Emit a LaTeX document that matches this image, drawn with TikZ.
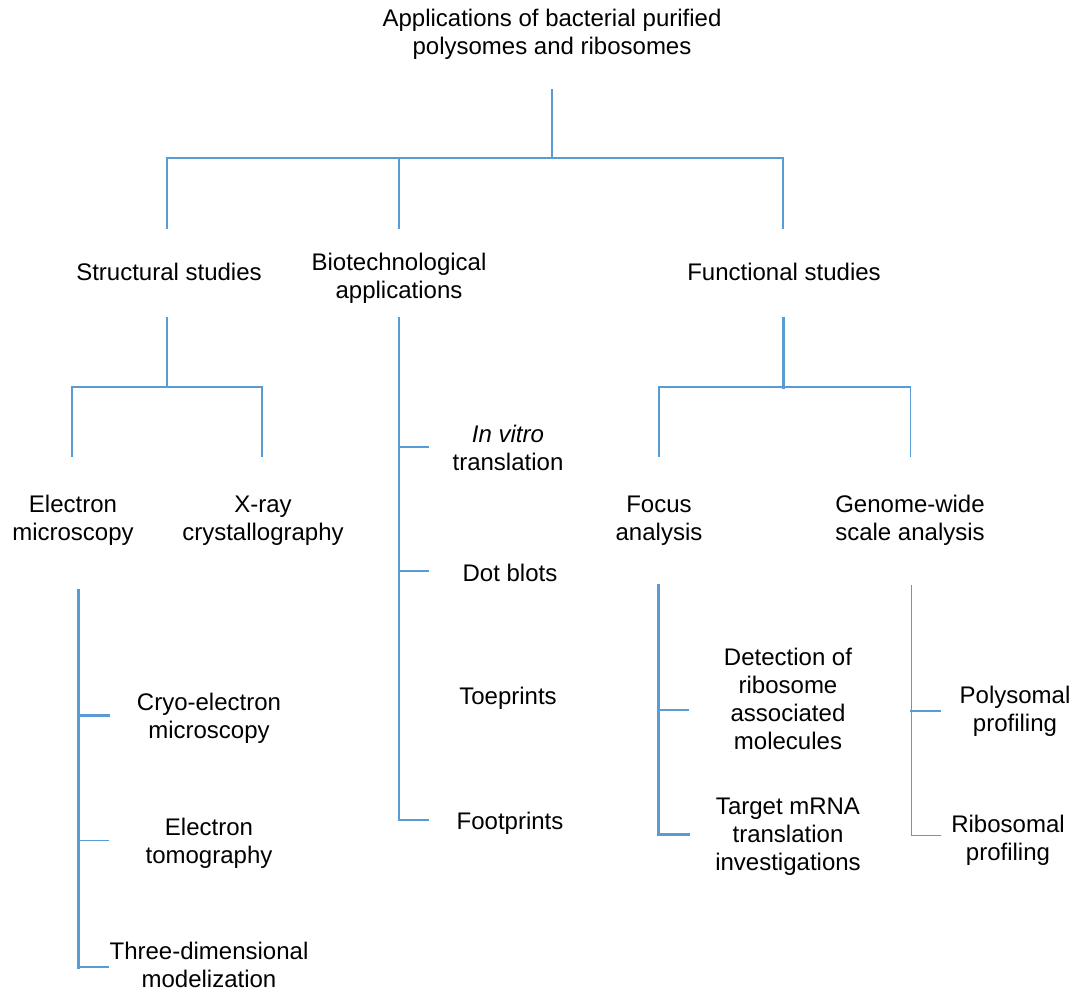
\documentclass[tikz,border=0pt]{standalone}
\usepackage{fontspec}
\setmainfont{Liberation Sans}
\definecolor{lineblue}{RGB}{91,155,213}
\begin{document}
\begin{tikzpicture}[x=1pt,y=-1pt,
  lbl/.style={anchor=base,align=center,inner sep=0pt,font=\fontsize{24}{28}\selectfont},
  conn/.style={draw=lineblue,line width=#1,line cap=rect},
  conn/.default=2pt]
\useasboundingbox[fill=white] (0,0) rectangle (1076,993);
% texts (anchor = baseline of the last line)
\node[lbl] (title) at (552,54) {Applications of bacterial purified\\polysomes and ribosomes};
\node[lbl] (struct) at (169,280) {Structural studies};
\node[lbl] (biotech) at (399,298) {Biotechnological\\applications};
\node[lbl] (funct) at (784,280) {Functional studies};
\node[lbl] (em) at (73,540) {Electron\\microscopy};
\node[lbl] (xray) at (263,540) {X-ray\\crystallography};
\node[lbl] (focus) at (659,540) {Focus\\analysis};
\node[lbl] (genome) at (910,540) {Genome-wide\\scale analysis};
\node[lbl] (invitro) at (508,470) {\textit{In vitro}\\translation};
\node[lbl] (dot) at (510,581) {Dot blots};
\node[lbl] (toe) at (508,704) {Toeprints};
\node[lbl] (foot) at (510,829) {Footprints};
\node[lbl] (cryo) at (209,738) {Cryo-electron\\microscopy};
\node[lbl] (tomo) at (209,863) {Electron\\tomography};
\node[lbl] (three) at (209,987) {Three-dimensional\\modelization};
\node[lbl] (detect) at (788,749) {Detection of\\ribosome\\associated\\molecules};
\node[lbl] (target) at (788,870) {Target mRNA\\translation\\investigations};
\node[lbl] (poly) at (1015,731) {Polysomal\\profiling};
\node[lbl] (ribo) at (1008,860) {Ribosomal\\profiling};
% coordinates
\coordinate (r1) at (552,90);
\coordinate (r2) at (552,158);
\coordinate (hL) at (167,158);
\coordinate (hM) at (399,158);
\coordinate (hR) at (783,158);
\coordinate (sS) at (167,228);
\coordinate (sB) at (399,228);
\coordinate (sF) at (783,228);
\coordinate (st1) at (167,318);
\coordinate (st2) at (167,387);
\coordinate (stL) at (72,387);
\coordinate (stR) at (262,387);
\coordinate (stLd) at (72,456);
\coordinate (stRd) at (262,456);
\coordinate (fu1) at (783,318);
\coordinate (fu2) at (783,387);
\coordinate (fuL) at (659,387);
\coordinate (fuR) at (910,387);
\coordinate (fuLd) at (659,456);
\coordinate (fuRd) at (910,456);
\coordinate (bi1) at (399,318);
\coordinate (bi2) at (399,447);
\coordinate (bi3) at (399,571);
\coordinate (bi4) at (399,820);
\coordinate (bi2e) at (428,447);
\coordinate (bi3e) at (428,571);
\coordinate (bi4e) at (428,820);
\coordinate (em1) at (78,590);
\coordinate (em2) at (78,715);
\coordinate (em3) at (78,840);
\coordinate (em4) at (78,967);
\coordinate (em2e) at (108,715);
\coordinate (em3e) at (108,840);
\coordinate (em4e) at (108,967);
\coordinate (fo1) at (658,585);
\coordinate (fo2) at (658,710);
\coordinate (fo3) at (658,834);
\coordinate (fo2e) at (688,710);
\coordinate (fo3e) at (688,834);
\coordinate (ge1) at (911,585);
\coordinate (ge2) at (911,711);
\coordinate (ge3) at (911,835);
\coordinate (ge2e) at (940,711);
\coordinate (ge3e) at (940,835);
% top level
\draw[conn=1.5pt] (r1) -- (r2);
\draw[conn=2.5pt] (hL) -- (hR);
\draw[conn=2pt] (hL) -- (sS);
\draw[conn=1.5pt] (hM) -- (sB);
\draw[conn=2.5pt] (hR) -- (sF);
% structural
\draw[conn=2pt] (st1) -- (st2);
\draw[conn=2pt] (stL) -- (stR);
\draw[conn=1.5pt] (stL) -- (stLd);
\draw[conn=2.5pt] (stR) -- (stRd);
% functional
\draw[conn=3pt] (fu1) -- (fu2);
\draw[conn=2pt] (fuL) -- (fuR);
\draw[conn=2pt] (fuL) -- (fuLd);
\draw[conn=1pt] (fuR) -- (fuRd);
% biotech
\draw[conn=1.5pt] (bi1) -- (bi4);
\draw[conn=1.5pt] (bi2) -- (bi2e);
\draw[conn=1.5pt] (bi3) -- (bi3e);
\draw[conn=1.5pt] (bi4) -- (bi4e);
% electron microscopy
\draw[conn=3pt] (em1) -- (em4);
\draw[conn=3pt] (em2) -- (em2e);
\draw[conn=1pt] (em3) -- (em3e);
\draw[conn=2pt] (em4) -- (em4e);
% focus
\draw[conn=3pt] (fo1) -- (fo3);
\draw[conn=1.5pt] (fo2) -- (fo2e);
\draw[conn=3pt] (fo3) -- (fo3e);
% genome
\draw[conn=1pt] (ge1) -- (ge3);
\draw[conn=2pt] (ge2) -- (ge2e);
\draw[conn=1pt] (ge3) -- (ge3e);
\end{tikzpicture}
\end{document}
